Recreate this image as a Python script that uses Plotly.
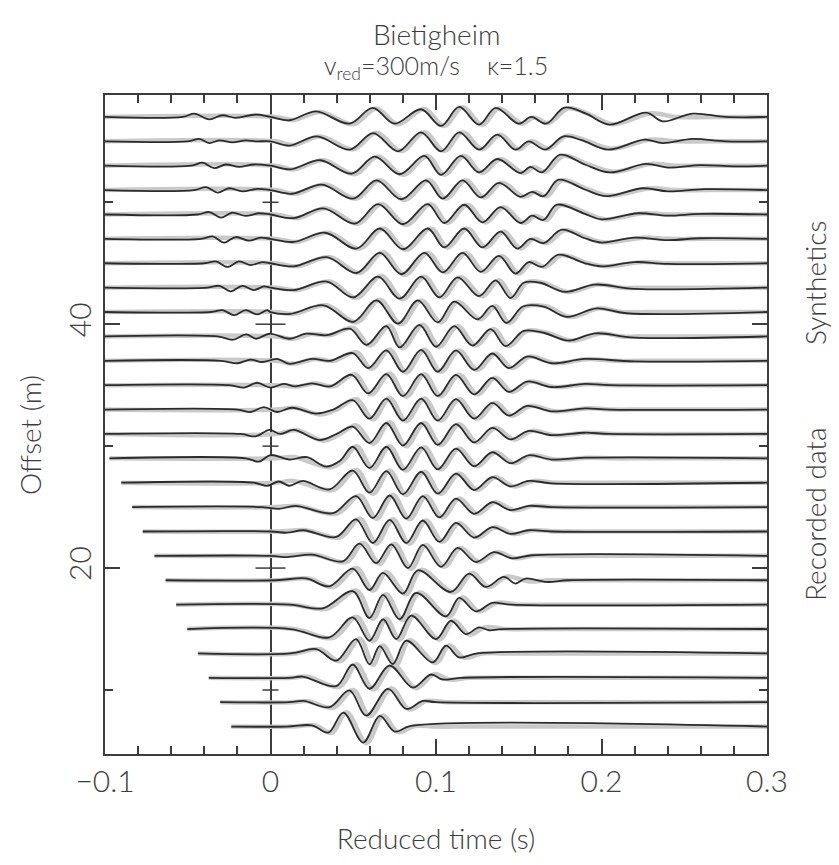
import plotly.graph_objects as go

# ---------------- data ----------------
OFFSETS = [57, 55, 53, 51, 49, 47, 45, 43, 41, 39, 37, 35, 33, 31, 29, 27, 25, 23, 21, 19, 17, 15, 13, 11, 9, 7]

# recorded data: extrema (time s, amplitude in m of offset scale) per trace
REC_T = [
    [-0.1,-0.053,-0.046,-0.037,-0.029,-0.021,-0.009,0.0,0.0115,0.0276,0.0477,0.0618,0.0749,0.091,0.103,0.114,0.126,0.136,0.150,0.1575,0.1666,0.1776,0.1907,0.2048,0.227,0.237,0.255,0.275,0.3],
    [-0.1,-0.05,-0.043,-0.037,-0.031,-0.023,-0.015,-0.009,0.0,0.0115,0.028,0.048,0.062,0.077,0.091,0.103,0.114,0.126,0.137,0.148,0.156,0.166,0.177,0.188,0.204,0.226,0.237,0.255,0.275,0.3],
    [-0.1,-0.048,-0.041,-0.034,-0.027,-0.019,-0.01,0.0,0.012,0.03,0.049,0.063,0.078,0.093,0.103,0.115,0.126,0.137,0.151,0.157,0.164,0.175,0.19,0.205,0.227,0.24,0.26,0.28,0.3],
    [-0.1,-0.046,-0.039,-0.032,-0.025,-0.017,-0.008,0.0,0.013,0.031,0.05,0.064,0.079,0.094,0.104,0.116,0.127,0.138,0.151,0.158,0.165,0.174,0.19,0.203,0.225,0.24,0.262,0.3],
    [-0.1,-0.044,-0.037,-0.03,-0.023,-0.015,-0.007,0.0,0.014,0.032,0.051,0.065,0.08,0.095,0.105,0.117,0.128,0.139,0.151,0.158,0.165,0.173,0.19,0.2,0.222,0.24,0.26,0.3],
    [-0.1,-0.042,-0.035,-0.028,-0.021,-0.013,-0.006,0.0,0.014,0.033,0.052,0.066,0.08,0.095,0.105,0.117,0.128,0.139,0.149,0.157,0.165,0.176,0.19,0.2,0.22,0.24,0.26,0.3],
    [-0.1,-0.04,-0.033,-0.026,-0.019,-0.012,-0.005,0.0,0.014,0.034,0.052,0.066,0.079,0.093,0.104,0.116,0.127,0.138,0.148,0.156,0.164,0.174,0.19,0.2,0.22,0.24,0.3],
    [-0.1,-0.038,-0.031,-0.024,-0.017,-0.01,-0.004,0.0,0.014,0.034,0.05,0.065,0.078,0.091,0.102,0.113,0.126,0.136,0.145,0.153,0.163,0.178,0.196,0.22,0.3],
    [-0.1,-0.036,-0.029,-0.022,-0.015,-0.008,-0.002,0.0,0.012,0.032,0.05,0.064,0.077,0.089,0.101,0.111,0.125,0.134,0.1425,0.1525,0.165,0.179,0.197,0.215,0.3],
    [-0.1,-0.032,-0.0227,-0.0147,-0.0087,-0.0006,0.0115,0.0215,0.034,0.048,0.058,0.07,0.078,0.09,0.1,0.111,0.122,0.133,0.142,0.153,0.165,0.18,0.196,0.22,0.3],
    [-0.1,-0.03,-0.02,-0.012,-0.005,0.004,0.0115,0.025,0.036,0.0497,0.059,0.07,0.08,0.091,0.101,0.112,0.123,0.134,0.144,0.155,0.17,0.19,0.22,0.3],
    [-0.1,-0.025,-0.016,-0.008,0.0,0.008,0.015,0.025,0.036,0.049,0.059,0.07,0.08,0.091,0.101,0.112,0.123,0.134,0.144,0.155,0.17,0.19,0.205,0.3],
    [-0.1,-0.02,-0.012,-0.004,0.004,0.013,0.0276,0.038,0.0497,0.0598,0.07,0.08,0.091,0.101,0.112,0.123,0.134,0.144,0.155,0.17,0.19,0.205,0.3],
    [-0.1,-0.018,-0.009,-0.0006,0.006,0.014,0.0296,0.04,0.0497,0.0598,0.07,0.08,0.091,0.101,0.112,0.123,0.134,0.145,0.156,0.17,0.19,0.205,0.3],
    [-0.0973,-0.015,-0.007,0.0,0.0115,0.022,0.0336,0.042,0.0497,0.0598,0.07,0.08,0.091,0.101,0.112,0.123,0.134,0.145,0.156,0.17,0.19,0.3],
    [-0.0902,-0.01,-0.002,0.005,0.0115,0.0195,0.0356,0.0497,0.0598,0.07,0.08,0.091,0.101,0.112,0.123,0.134,0.145,0.156,0.17,0.3],
    [-0.0836,-0.005,0.005,0.015,0.0377,0.0517,0.0618,0.072,0.082,0.092,0.102,0.112,0.123,0.134,0.145,0.156,0.17,0.3],
    [-0.0772,0.0,0.01,0.02,0.0397,0.0517,0.0618,0.072,0.082,0.092,0.102,0.112,0.123,0.134,0.145,0.156,0.17,0.3],
    [-0.0701,0.0,0.01,0.025,0.0437,0.0538,0.0638,0.073,0.083,0.092,0.103,0.113,0.124,0.135,0.146,0.158,0.3],
    [-0.0634,0.0034,0.0215,0.0356,0.0497,0.0598,0.0679,0.080,0.089,0.109,0.120,0.130,0.141,0.148,0.154,0.167,0.18,0.3],
    [-0.057,0.0115,0.0316,0.0497,0.0598,0.068,0.078,0.088,0.106,0.114,0.124,0.134,0.145,0.3],
    [-0.0503,0.012,0.0356,0.0497,0.0598,0.068,0.076,0.085,0.100,0.109,0.118,0.126,0.132,0.14,0.3],
    [-0.0439,0.012,0.0276,0.0397,0.0517,0.0598,0.066,0.0739,0.082,0.098,0.106,0.114,0.125,0.3],
    [-0.0373,0.0115,0.0195,0.0397,0.0497,0.0598,0.072,0.086,0.097,0.104,0.115,0.3],
    [-0.0304,0.0115,0.02,0.0356,0.0477,0.0578,0.071,0.082,0.092,0.1,0.3],
    [-0.0237,0.01,0.025,0.035,0.044,0.056,0.066,0.075,0.085,0.3],
]
REC_A = [
    [0,0,0.27,-0.2,0.14,-0.08,0.2,0,-0.27,0.46,-0.55,0.74,-0.55,0.63,-0.74,0.82,-0.63,0.74,-0.55,0,-0.55,0.77,0.27,-0.63,0.36,-0.36,0.27,0,0],
    [0,0,0.2,-0.14,0.08,-0.08,0.08,0,0,-0.35,0.4,-0.68,0.68,-0.82,0.74,-0.82,0.74,-0.68,0.55,-0.68,0,-0.68,0.41,0.1,-0.68,0.14,-0.14,0.2,0,0],
    [0,0,0.25,-0.2,0.1,-0.1,0.1,0,-0.3,0.45,-0.65,0.75,-0.7,0.8,-0.75,0.8,-0.55,0.55,-0.6,-0.1,-0.55,0.9,0.1,-0.55,0.15,-0.15,0.05,-0.05,0],
    [0,0,0.25,-0.2,0.15,-0.1,0.1,0,-0.3,0.45,-0.7,0.8,-0.75,0.8,-0.7,0.8,-0.6,0.6,-0.55,-0.15,-0.5,0.85,0.05,-0.5,0.15,-0.1,0.08,0],
    [0,0,0.2,-0.25,0.15,-0.12,0.1,0,-0.3,0.5,-0.75,0.85,-0.8,0.85,-0.7,0.8,-0.65,0.6,-0.7,-0.1,-0.45,0.8,0.05,-0.4,0.1,-0.1,0.05,0],
    [0,0,0.2,-0.3,0.15,-0.15,0.1,0,-0.25,0.5,-0.8,0.85,-0.85,0.85,-0.7,0.85,-0.7,0.6,-0.8,0.0,-0.35,0.75,0.05,-0.3,0.1,-0.1,0.05,0],
    [0,0,0.15,-0.3,0.15,-0.15,0.1,0,-0.25,0.5,-0.8,0.85,-0.9,0.85,-0.75,0.85,-0.7,0.6,-0.85,0.1,-0.3,0.7,0.0,-0.25,0.1,-0.05,0],
    [0,0,0.15,-0.3,0.15,-0.2,0.1,0,-0.2,0.5,-0.8,0.9,-0.9,0.9,-0.8,0.85,-0.7,0.6,-0.85,0.4,0.4,-0.35,0.25,-0.1,0],
    [0,0,0.15,-0.25,0.15,-0.2,0.15,0,-0.15,0.55,-0.8,0.95,-0.95,0.95,-0.85,0.85,-0.6,0.5,-0.9,0.45,0.45,-0.4,0.3,-0.1,0],
    [0,0,-0.27,0.16,-0.19,0.22,-0.19,0.22,0.1,0.63,-0.7,0.85,-0.9,0.95,-0.85,0.85,-0.75,0.6,-0.8,0.45,0.3,-0.35,0.25,-0.1,0],
    [0,0,-0.2,0.1,-0.1,0.15,-0.25,0.15,0.0,0.63,-0.6,0.85,-0.9,0.9,-0.9,0.85,-0.75,0.6,-0.6,0.35,-0.2,0.15,-0.05,0],
    [0,0,-0.2,0.2,-0.2,0.1,-0.1,0.15,-0.1,0.85,-0.68,0.9,-0.9,0.9,-0.9,0.85,-0.75,0.6,-0.55,0.3,-0.15,0.1,0,0],
    [0,0,-0.2,0.2,-0.2,0.15,-0.33,0.0,0.77,-0.75,0.9,-0.9,0.9,-0.9,0.85,-0.75,0.55,-0.5,0.3,-0.15,0.1,0,0],
    [0,0,-0.2,0.33,0.0,0.33,-0.5,0.0,0.6,-0.75,0.9,-0.95,0.9,-0.9,0.8,-0.7,0.5,-0.45,0.25,-0.1,0.1,0,0],
    [0,0,-0.27,0.27,-0.1,0.1,-0.68,-0.2,0.95,-0.8,0.95,-0.95,0.9,-0.9,0.8,-0.65,0.5,-0.4,0.25,-0.1,0.05,0],
    [0,0,-0.25,0.1,-0.25,0.15,-0.55,1.0,-0.82,0.95,-0.95,0.9,-0.9,0.75,-0.6,0.45,-0.3,0.15,-0.05,0],
    [0,0,-0.15,0.1,-0.5,0.9,-0.9,0.95,-0.95,0.9,-0.85,0.7,-0.55,0.4,-0.25,0.1,0,0],
    [0,0,-0.1,0.1,-0.45,1.0,-0.95,0.95,-0.95,0.9,-0.85,0.7,-0.5,0.35,-0.2,0.1,0,0],
    [0,0,-0.1,0.1,-0.45,1.0,-0.6,0.95,-1.0,0.9,-0.9,0.65,-0.5,0.3,-0.2,0.05,0],
    [0,0,0.15,-0.5,0.95,-0.8,0.6,-1.09,0.82,-0.96,0.55,-0.55,0.27,-0.27,0.14,-0.14,0,0],
    [0,0,-0.3,1.1,-1.1,0.8,-1.2,0.96,-0.96,0.55,-0.55,0.14,0,0],
    [0,0,-0.68,0.96,-0.96,0.8,-0.82,1.1,-0.82,0.68,-0.41,0.14,-0.1,0,0],
    [0,0,0.35,-0.6,1.17,-0.9,0.6,-0.87,1.04,-0.74,0.63,-0.33,0,0],
    [0,0,0.1,-0.68,1.09,-0.9,1.0,-0.8,0.27,-0.14,0,0],
    [0,0,0.1,-0.41,0.96,-1.1,1.09,-0.55,0.1,0,0],
    [0,0,0.1,-0.49,1.15,-1.31,0.87,-0.41,0.05,0],
]

# synthetics: extrema of the grey traces (flat before t = 0)
SYN_T = [
    [-0.1,0.003,0.014,0.03,0.05,0.064,0.077,0.093,0.105,0.116,0.128,0.138,0.152,0.159,0.168,0.18,0.193,0.207,0.23,0.245,0.265,0.3],
    [-0.1,0.003,0.014,0.03,0.05,0.064,0.079,0.093,0.105,0.116,0.128,0.139,0.15,0.158,0.168,0.179,0.19,0.206,0.23,0.245,0.265,0.3],
    [-0.1,0.003,0.014,0.032,0.051,0.065,0.08,0.095,0.105,0.117,0.128,0.139,0.153,0.159,0.166,0.177,0.192,0.207,0.23,0.245,0.265,0.3],
    [-0.1,0.003,0.015,0.033,0.052,0.066,0.081,0.096,0.106,0.118,0.129,0.14,0.153,0.16,0.167,0.176,0.192,0.205,0.23,0.245,0.265,0.3],
    [-0.1,0.003,0.016,0.034,0.053,0.067,0.082,0.097,0.107,0.119,0.13,0.141,0.153,0.16,0.167,0.175,0.192,0.202,0.225,0.24,0.26,0.3],
    [-0.1,0.003,0.016,0.035,0.054,0.068,0.082,0.097,0.107,0.119,0.13,0.141,0.151,0.159,0.167,0.178,0.192,0.202,0.225,0.24,0.26,0.3],
    [-0.1,0.003,0.016,0.036,0.054,0.068,0.081,0.095,0.106,0.118,0.129,0.14,0.15,0.158,0.166,0.176,0.192,0.202,0.225,0.24,0.26,0.3],
    [-0.1,0.003,0.016,0.036,0.052,0.067,0.08,0.093,0.104,0.115,0.128,0.138,0.147,0.155,0.165,0.18,0.198,0.212,0.23,0.3],
    [-0.1,0.003,0.014,0.034,0.052,0.066,0.079,0.091,0.103,0.113,0.127,0.136,0.1445,0.154,0.167,0.181,0.199,0.212,0.23,0.3],
    [-0.1,0.003,0.014,0.024,0.036,0.05,0.06,0.072,0.08,0.092,0.102,0.113,0.124,0.135,0.144,0.155,0.167,0.182,0.2,0.212,0.23,0.3],
    [-0.1,0.003,0.014,0.027,0.038,0.052,0.061,0.072,0.082,0.093,0.103,0.114,0.125,0.136,0.146,0.157,0.172,0.192,0.207,0.225,0.3],
    [-0.1,0.003,0.017,0.027,0.038,0.051,0.061,0.072,0.082,0.093,0.103,0.114,0.125,0.136,0.146,0.157,0.172,0.192,0.207,0.225,0.3],
    [-0.1,0.003,0.015,0.03,0.04,0.052,0.062,0.072,0.082,0.093,0.103,0.114,0.125,0.136,0.146,0.157,0.172,0.192,0.207,0.225,0.3],
    [-0.1,0.003,0.016,0.032,0.042,0.052,0.062,0.072,0.082,0.093,0.103,0.114,0.125,0.136,0.147,0.158,0.172,0.192,0.207,0.225,0.3],
    [-0.0973,0.003,0.014,0.036,0.044,0.052,0.062,0.072,0.082,0.093,0.103,0.114,0.125,0.136,0.147,0.158,0.172,0.192,0.207,0.225,0.3],
    [-0.0902,0.003,0.014,0.038,0.052,0.062,0.072,0.082,0.093,0.103,0.114,0.125,0.136,0.147,0.159,0.172,0.19,0.3],
    [-0.0836,0.003,0.017,0.04,0.054,0.064,0.074,0.084,0.094,0.104,0.114,0.125,0.136,0.147,0.159,0.172,0.19,0.3],
    [-0.0772,0.003,0.022,0.042,0.054,0.064,0.074,0.084,0.094,0.104,0.114,0.125,0.136,0.147,0.159,0.172,0.19,0.3],
    [-0.0701,0.003,0.027,0.046,0.056,0.066,0.075,0.085,0.094,0.105,0.115,0.126,0.137,0.148,0.16,0.172,0.19,0.3],
    [-0.0634,0.005,0.023,0.038,0.052,0.062,0.07,0.082,0.091,0.111,0.122,0.132,0.143,0.156,0.168,0.185,0.3],
    [-0.057,0.013,0.034,0.052,0.062,0.07,0.08,0.09,0.108,0.116,0.126,0.137,0.15,0.165,0.3],
    [-0.0503,0.014,0.038,0.052,0.062,0.07,0.078,0.087,0.102,0.111,0.12,0.13,0.142,0.158,0.3],
    [-0.0439,0.014,0.03,0.042,0.054,0.062,0.068,0.076,0.084,0.1,0.108,0.117,0.128,0.145,0.3],
    [-0.0373,0.013,0.022,0.042,0.052,0.062,0.074,0.088,0.099,0.108,0.12,0.135,0.3],
    [-0.0304,0.013,0.022,0.038,0.05,0.06,0.073,0.084,0.094,0.106,0.125,0.3],
    [-0.0237,0.012,0.027,0.037,0.046,0.058,0.068,0.077,0.087,0.1,0.12,0.3],
]
SYN_A = [
    [0,0,-0.25,0.4,-0.6,0.7,-0.6,0.65,-0.75,0.8,-0.65,0.7,-0.55,-0.05,-0.5,0.7,0.2,-0.6,0.3,0,0,0],
    [0,0,-0.3,0.4,-0.65,0.7,-0.8,0.75,-0.8,0.75,-0.65,0.55,-0.65,0.0,-0.6,0.45,0.1,-0.6,0.15,0,0,0],
    [0,0,-0.3,0.45,-0.7,0.75,-0.75,0.8,-0.75,0.8,-0.6,0.55,-0.6,-0.1,-0.5,0.8,0.1,-0.5,0.15,0,0,0],
    [0,0,-0.3,0.45,-0.7,0.8,-0.8,0.8,-0.7,0.8,-0.6,0.6,-0.55,-0.15,-0.5,0.8,0.05,-0.45,0.15,0,0,0],
    [0,0,-0.3,0.5,-0.75,0.85,-0.85,0.85,-0.7,0.8,-0.65,0.6,-0.7,-0.1,-0.45,0.75,0.05,-0.4,0.1,0,0,0],
    [0,0,-0.25,0.5,-0.8,0.85,-0.9,0.85,-0.7,0.85,-0.7,0.6,-0.8,0.0,-0.35,0.7,0.05,-0.3,0.1,0,0,0],
    [0,0,-0.25,0.5,-0.8,0.9,-0.95,0.85,-0.75,0.85,-0.7,0.6,-0.85,0.1,-0.3,0.65,0.0,-0.25,0.1,0,0,0],
    [0,0,-0.2,0.5,-0.85,0.95,-0.95,0.9,-0.8,0.85,-0.7,0.6,-0.85,0.45,0.4,-0.35,0.25,0,0,0],
    [0,0,-0.15,0.55,-0.85,1.0,-1.0,0.95,-0.85,0.85,-0.6,0.5,-0.9,0.45,0.45,-0.4,0.3,0,0,0],
    [0,0,-0.2,0.2,0.1,0.7,-0.75,0.9,-0.95,0.95,-0.85,0.85,-0.75,0.6,-0.8,0.45,0.3,-0.35,0.25,0,0,0],
    [0,0,-0.25,0.15,0.0,0.7,-0.65,0.9,-0.95,0.9,-0.9,0.85,-0.75,0.6,-0.6,0.35,-0.2,0.15,0,0,0],
    [0,0,-0.1,0.15,-0.1,0.9,-0.75,0.95,-0.95,0.9,-0.9,0.85,-0.75,0.6,-0.55,0.3,-0.15,0.1,0,0,0],
    [0,0,0.15,-0.4,0.0,0.85,-0.8,0.95,-0.95,0.9,-0.9,0.85,-0.75,0.55,-0.5,0.3,-0.15,0.1,0,0,0],
    [0,0,0.3,-0.55,0.0,0.7,-0.8,0.95,-1.0,0.9,-0.9,0.8,-0.7,0.5,-0.45,0.25,-0.1,0.1,0,0,0],
    [0,0,0.1,-0.75,-0.2,1.0,-0.85,1.0,-1.0,0.9,-0.9,0.8,-0.65,0.5,-0.4,0.25,-0.1,0.05,0,0,0],
    [0,0,0.15,-0.6,1.05,-0.9,1.0,-1.0,0.9,-0.9,0.75,-0.6,0.45,-0.3,0.15,0,0,0],
    [0,0,0.1,-0.55,0.95,-0.95,1.0,-1.0,0.9,-0.85,0.7,-0.55,0.4,-0.25,0.1,0,0,0],
    [0,0,0.1,-0.5,1.05,-1.0,1.0,-1.0,0.9,-0.85,0.7,-0.5,0.35,-0.2,0.1,0,0,0],
    [0,0,0.1,-0.5,1.05,-0.65,1.0,-1.05,0.9,-0.9,0.65,-0.5,0.3,-0.2,0.05,0,0,0],
    [0,0,0.15,-0.55,1.0,-0.85,0.65,-1.15,0.85,-1.0,0.6,-0.55,0.3,-0.1,0,0,0],
    [0,0,-0.35,1.15,-1.15,0.85,-1.25,1.0,-1.0,0.6,-0.55,0.15,0,0,0],
    [0,0,-0.72,1.0,-1.0,0.85,-0.88,1.15,-0.85,0.7,-0.45,0.15,0,0,0],
    [0,0,0.35,-0.65,1.2,-0.95,0.65,-0.92,1.08,-0.78,0.66,-0.35,0,0,0],
    [0,0,0.1,-0.72,1.12,-0.95,1.05,-0.85,0.3,-0.15,0,0,0],
    [0,0,0.1,-0.45,1.0,-1.15,1.12,-0.6,0.1,0,0,0],
    [0,0,0.1,-0.52,1.18,-1.36,0.9,-0.45,0.05,0,0,0],
]

X_TICKS = [-0.1, 0, 0.1, 0.2, 0.3]
X_TICKTEXT = ["\u22120.1", "0", "0.1", "0.2", "0.3"]
Y_MAJOR = [20, 40]
Y_MINOR = [10, 30, 50]

for name, tt, aa in (("rec", REC_T, REC_A), ("syn", SYN_T, SYN_A)):
    assert len(tt) == len(aa) == len(OFFSETS), name
    for k, (t, a) in enumerate(zip(tt, aa)):
        assert len(t) == len(a), (name, k, len(t), len(a))

# ---------------- figure ----------------
AX = "#3c3c3c"
FONT = "Lato"
W = 300

fig = go.Figure()
for off, ts, amps in zip(OFFSETS, SYN_T, SYN_A):
    fig.add_trace(go.Scatter(
        x=ts, y=[off + a for a in amps], mode="lines",
        line=dict(color="#c9c9c9", width=4.5, shape="spline", smoothing=1.0),
        showlegend=False, hoverinfo="skip"))
for off, ts, amps in zip(OFFSETS, REC_T, REC_A):
    fig.add_trace(go.Scatter(
        x=ts, y=[off + a for a in amps], mode="lines",
        line=dict(color="#2b2b2b", width=1.8, shape="spline", smoothing=1.0),
        showlegend=False, hoverinfo="skip"))

# cross ticks on the t = 0 line
shapes = []
for v in Y_MAJOR:
    shapes.append(dict(type="line", xref="x", yref="y", xsizemode="pixel", xanchor=0,
                       x0=-15, x1=15, y0=v, y1=v, line=dict(color=AX, width=1.5)))
for v in Y_MINOR:
    shapes.append(dict(type="line", xref="x", yref="y", xsizemode="pixel", xanchor=0,
                       x0=-8, x1=8, y0=v, y1=v, line=dict(color=AX, width=1.5)))

def f(size):
    return dict(size=size, family=FONT, color=AX, weight=W)

fig.update_layout(
    width=839, height=865,
    margin=dict(l=105, r=72, t=95, b=111),
    paper_bgcolor="white", plot_bgcolor="white",
    font=dict(family=FONT, color=AX),
    shapes=shapes,
    title=dict(text="Bietigheim", x=0.5205, xanchor="center", y=1 - 35 / 865, yanchor="middle",
               font=f(28)),
    annotations=[
        dict(text="v<sub>red</sub>=300m/s\u00a0\u00a0\u00a0\u00a0\u03ba=1.5", xref="paper", yref="paper",
             x=0.5, y=(754 - 67) / 659, showarrow=False, font=f(25),
             xanchor="center", yanchor="middle"),
        dict(text="Offset (m)", xref="paper", yref="paper", x=(30 - 105) / 662, y=(754 - 435) / 659,
             textangle=-90, showarrow=False, font=f(28),
             xanchor="center", yanchor="middle"),
        dict(text="Synthetics", xref="paper", yref="paper", x=(815 - 105) / 662, y=(754 - 283) / 659,
             textangle=-90, showarrow=False, font=f(28),
             xanchor="center", yanchor="middle"),
        dict(text="Recorded data", xref="paper", yref="paper", x=(815 - 105) / 662, y=(754 - 515) / 659,
             textangle=-90, showarrow=False, font=f(28),
             xanchor="center", yanchor="middle"),
    ],
)
fig.update_xaxes(
    range=[-0.1, 0.3], tickvals=X_TICKS, ticktext=X_TICKTEXT,
    ticks="inside", ticklen=15, tickwidth=1.5, tickcolor=AX,
    minor=dict(ticks="inside", dtick=0.02, ticklen=8, tickwidth=1.5, tickcolor=AX, showgrid=False),
    showline=True, linecolor=AX, linewidth=2, mirror="allticks",
    showgrid=False, zeroline=True, zerolinecolor=AX, zerolinewidth=1.6,
    tickfont=f(30),
    title=dict(text="Reduced time (s)", font=f(28), standoff=32),
)
fig.update_yaxes(
    range=[4.75, 58.8], tickvals=Y_MAJOR, ticktext=[str(v) for v in Y_MAJOR],
    ticks="inside", ticklen=15, tickwidth=1.5, tickcolor=AX, tickangle=-90,
    minor=dict(ticks="inside", tickvals=Y_MINOR, ticklen=8, tickwidth=1.5, tickcolor=AX, showgrid=False),
    showline=True, linecolor=AX, linewidth=2, mirror="allticks",
    showgrid=False, zeroline=False,
    tickfont=f(30),
)

fig.write_html("out.html")
